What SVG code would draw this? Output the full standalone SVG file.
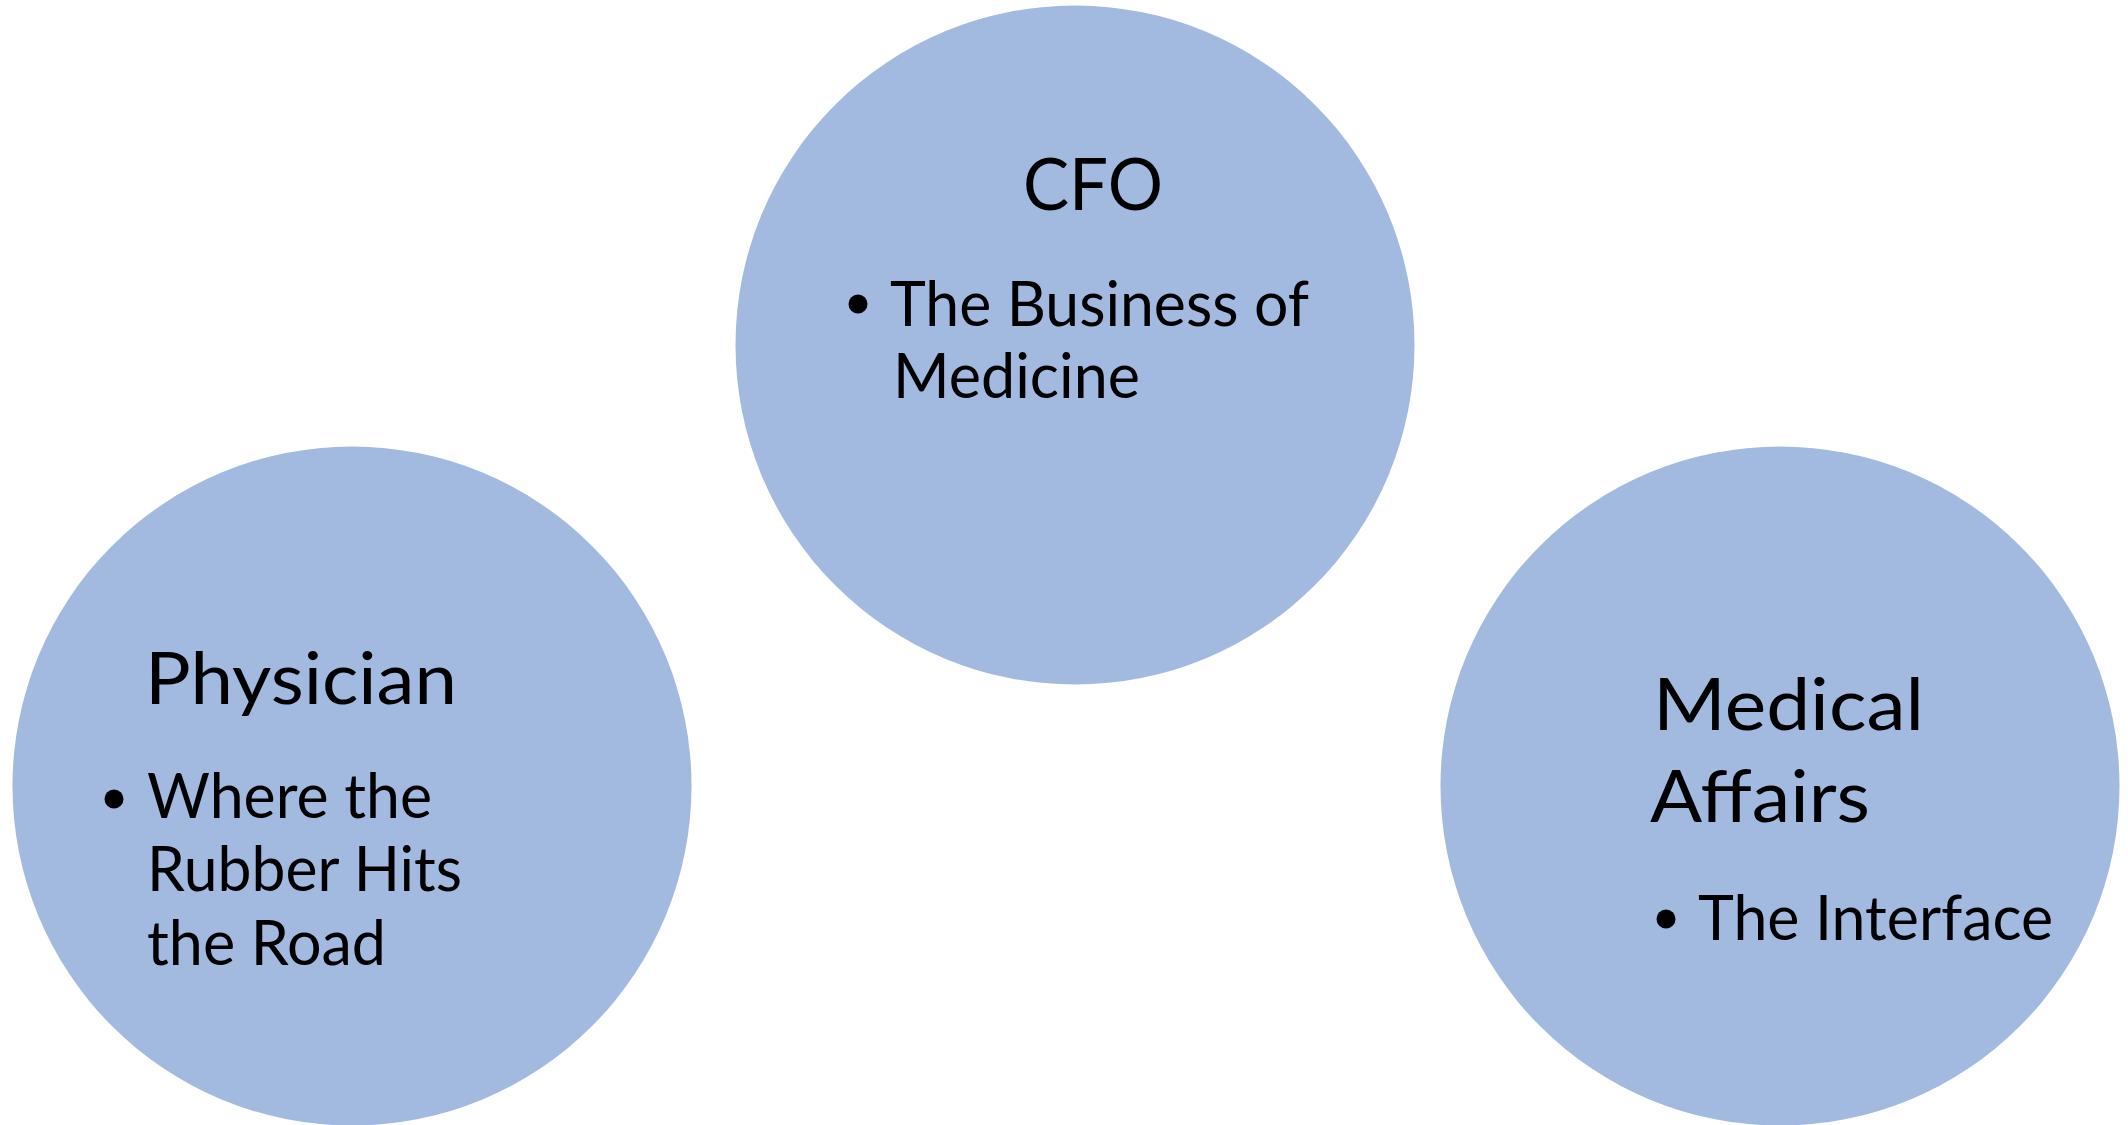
<svg xmlns="http://www.w3.org/2000/svg" width="2128" height="1125" viewBox="0 0 2128 1125">
<style>
.c{fill:#A2B9E0}
.t{font-family:Lato,"Liberation Sans",sans-serif;font-size:72px;fill:#000}
.b{font-family:Lato,"Liberation Sans",sans-serif;font-size:61px;fill:#000}
.d{fill:#000}
</style>
<rect width="2128" height="1125" fill="#fff"/>
<g id="connectors"></g>
<g id="cfo">
<circle class="c" cx="1075" cy="345" r="339.5"/>
<text class="t" x="1023" y="210" textLength="140" lengthAdjust="spacingAndGlyphs">CFO</text>
<circle class="d" cx="858" cy="304" r="9.5"/>
<text class="b" x="890" y="326" textLength="419" lengthAdjust="spacingAndGlyphs">The Business of</text>
<text class="b" x="893" y="398" textLength="247" lengthAdjust="spacingAndGlyphs">Medicine</text>
</g>
<g id="physician">
<circle class="c" cx="352" cy="786" r="339.5"/>
<text class="t" x="145" y="704" textLength="312" lengthAdjust="spacingAndGlyphs">Physician</text>
<circle class="d" cx="114" cy="799" r="9.5"/>
<text class="b" x="147" y="818" textLength="285" lengthAdjust="spacingAndGlyphs">Where the</text>
<text class="b" x="147" y="891" textLength="315" lengthAdjust="spacingAndGlyphs">Rubber Hits</text>
<text class="b" x="147" y="965" textLength="239" lengthAdjust="spacingAndGlyphs">the Road</text>
</g>
<g id="medical-affairs">
<circle class="c" cx="1780" cy="786" r="339.5"/>
<text class="t" x="1653" y="730" textLength="271" lengthAdjust="spacingAndGlyphs">Medical</text>
<text class="t" x="1650" y="822" textLength="220" lengthAdjust="spacingAndGlyphs">Affairs</text>
<circle class="d" cx="1666" cy="919" r="9.5"/>
<text class="b" x="1698" y="940" textLength="355" lengthAdjust="spacingAndGlyphs">The Interface</text>
</g>
</svg>
